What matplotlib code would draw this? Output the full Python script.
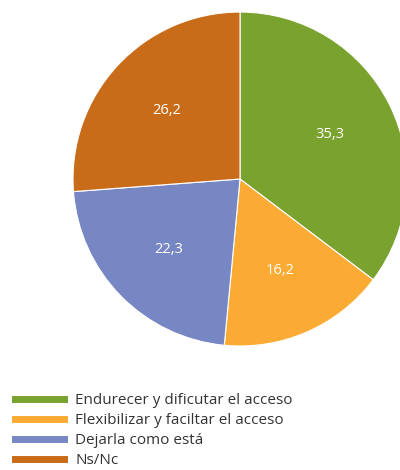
import matplotlib.pyplot as plt
from matplotlib.lines import Line2D

labels = ["Endurecer y dificutar el acceso", "Flexibilizar y faciltar el acceso",
          "Dejarla como está", "Ns/Nc"]
values = [35.3, 16.2, 22.3, 26.2]
colors = ["#7aa22f", "#fbab33", "#7787c3", "#c96c1a"]

plt.rcParams["font.family"] = ["Open Sans", "DejaVu Sans"]

fig = plt.figure(figsize=(4, 4.7), dpi=100)
ax = fig.add_axes([0.1825, 0.2638, 0.835, 0.7106])

wedges, texts, autotexts = ax.pie(
    values, colors=colors, startangle=90, counterclock=False,
    autopct=lambda p: ("%.1f" % p).replace(".", ","), pctdistance=0.6,
    wedgeprops=dict(edgecolor="white", linewidth=0.8),
    textprops=dict(color="white", fontsize=10.5))
ax.set_aspect("equal")
ax.set_xlim(-1, 1)
ax.set_ylim(-1, 1)

handles = [Line2D([0], [0], color=c, lw=5) for c in colors]
fig.legend(handles, labels, loc="upper left", bbox_to_anchor=(0.022, 0.176),
           frameon=False, fontsize=11, handlelength=3.2, handletextpad=0.75,
           labelspacing=0.32, labelcolor="#333333", borderaxespad=0)

fig.savefig("out.png", dpi=100)
